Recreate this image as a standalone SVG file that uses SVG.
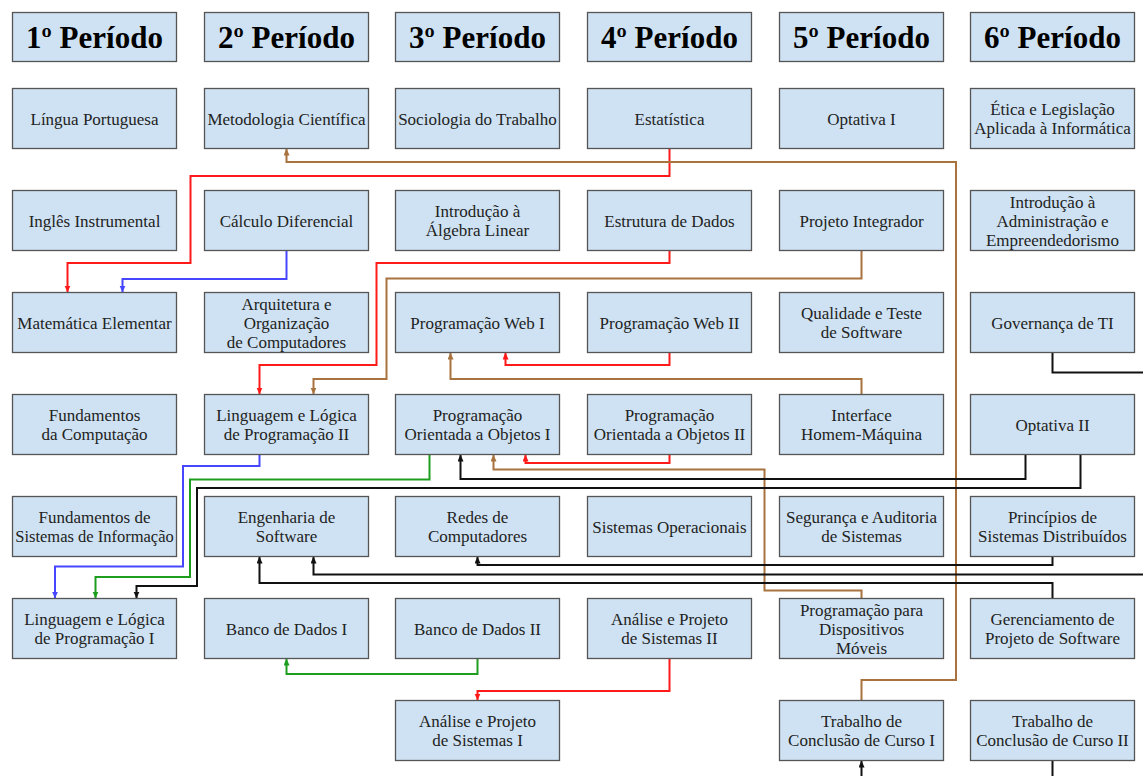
<svg xmlns="http://www.w3.org/2000/svg" width="1143" height="776" viewBox="0 0 1143 776">
<style>
.box{fill:#cfe2f3;stroke:#555;stroke-width:1.3}
.t{font-family:"Liberation Serif","Times New Roman",serif;font-size:17px;fill:#222;text-anchor:middle}
.h{font-family:"Liberation Serif","Times New Roman",serif;font-size:31px;font-weight:bold;fill:#000;text-anchor:middle}
.c{fill:none;stroke-width:2}
.red{stroke:#ff1a1a}.blue{stroke:#4646ff}.green{stroke:#1e9e1e}.brown{stroke:#a8733f}.black{stroke:#111}
</style>
<defs>
<marker id="aR" markerUnits="userSpaceOnUse" markerWidth="8" markerHeight="8" refX="7" refY="3" orient="auto"><path d="M0,0L7,3L0,6z" fill="#ff1a1a"/></marker>
<marker id="aB" markerUnits="userSpaceOnUse" markerWidth="8" markerHeight="8" refX="7" refY="3" orient="auto"><path d="M0,0L7,3L0,6z" fill="#4646ff"/></marker>
<marker id="aG" markerUnits="userSpaceOnUse" markerWidth="8" markerHeight="8" refX="7" refY="3" orient="auto"><path d="M0,0L7,3L0,6z" fill="#1e9e1e"/></marker>
<marker id="aN" markerUnits="userSpaceOnUse" markerWidth="8" markerHeight="8" refX="7" refY="3" orient="auto"><path d="M0,0L7,3L0,6z" fill="#a8733f"/></marker>
<marker id="aK" markerUnits="userSpaceOnUse" markerWidth="8" markerHeight="8" refX="7" refY="3" orient="auto"><path d="M0,0L7,3L0,6z" fill="#111"/></marker>
</defs>
<rect width="1143" height="776" fill="#fff"/>

<g id="connectors">
<path class="c red" d="M669.5,148.5V176H190.5V263H67.5V292.5" marker-end="url(#aR)"/>
<path class="c blue" d="M286.5,250.5V279H122.5V292.5" marker-end="url(#aB)"/>
<path class="c brown" d="M861.5,700.5V680H956V162H286.5V148.5" marker-end="url(#aN)"/>
<path class="c red" d="M669.5,250.5V263H376.5V365H259.5V394.5" marker-end="url(#aR)"/>
<path class="c brown" d="M861.5,250.5V278.5H386.5V379H313.5V394.5" marker-end="url(#aN)"/>
<path class="c red" d="M669.5,352.5V365H505.5V352.5" marker-end="url(#aR)"/>
<path class="c brown" d="M861.5,394.5V379H450.5V352.5" marker-end="url(#aN)"/>
<path class="c red" d="M669.5,454.5V463H525.5V454.5" marker-end="url(#aR)"/>
<path class="c brown" d="M861.5,598.5V590.5H764.5V469.5H493.5V454.5" marker-end="url(#aN)"/>
<path class="c black" d="M1025.5,454.5V479H460.5V454.5" marker-end="url(#aK)"/>
<path class="c black" d="M1080.5,454.5V488H197V586H136.5V598.5" marker-end="url(#aK)"/>
<path class="c green" d="M429.5,454.5V479.5H190V577H95.5V598.5" marker-end="url(#aG)"/>
<path class="c blue" d="M259.5,454.5V466H183V566.5H55V598.5" marker-end="url(#aB)"/>
<path class="c black" d="M1052.5,556.5V565H477.5V556.5" marker-end="url(#aK)"/>
<path class="c black" d="M1143,574.5H313.5V556.5" marker-end="url(#aK)"/>
<path class="c black" d="M1052.5,598.5V583H259.5V556.5" marker-end="url(#aK)"/>
<path class="c black" d="M1052.5,352.5V372.5H1143"/>
<path class="c green" d="M477.5,658.5V674H286.5V658.5" marker-end="url(#aG)"/>
<path class="c red" d="M669.5,658.5V691H477.5V700.5" marker-end="url(#aR)"/>
<path class="c black" d="M861.5,776V760.5" marker-end="url(#aK)"/>
<path class="c black" d="M1052.5,760.5V776"/>
</g>

<!-- Column 1 -->
<g id="h1"><rect class="box" x="12.5" y="12.5" width="164" height="49"/><text class="h" x="94.5" y="47.5">1º Período</text></g>
<g id="c1r1"><rect class="box" x="12.5" y="88.5" width="164" height="60"/><text class="t" x="94.5" y="124.5">Língua Portuguesa</text></g>
<g id="c1r2"><rect class="box" x="12.5" y="190.5" width="164" height="60"/><text class="t" x="94.5" y="226.5">Inglês Instrumental</text></g>
<g id="c1r3"><rect class="box" x="12.5" y="292.5" width="164" height="60"/><text class="t" x="94.5" y="328.5">Matemática Elementar</text></g>
<g id="c1r4"><rect class="box" x="12.5" y="394.5" width="164" height="60"/><text class="t" x="94.5" y="421"><tspan x="94.5">Fundamentos</tspan><tspan x="94.5" dy="19">da Computação</tspan></text></g>
<g id="c1r5"><rect class="box" x="12.5" y="496.5" width="164" height="60"/><text class="t" x="94.5" y="523"><tspan x="94.5">Fundamentos de</tspan><tspan x="94.5" dy="19" style="font-size:16.5px">Sistemas de Informação</tspan></text></g>
<g id="c1r6"><rect class="box" x="12.5" y="598.5" width="164" height="60"/><text class="t" x="94.5" y="625"><tspan x="94.5">Linguagem e Lógica</tspan><tspan x="94.5" dy="19">de Programação I</tspan></text></g>

<!-- Column 2 -->
<g id="h2"><rect class="box" x="204.5" y="12.5" width="164" height="49"/><text class="h" x="286.5" y="47.5">2º Período</text></g>
<g id="c2r1"><rect class="box" x="204.5" y="88.5" width="164" height="60"/><text class="t" x="286.5" y="124.5">Metodologia Científica</text></g>
<g id="c2r2"><rect class="box" x="204.5" y="190.5" width="164" height="60"/><text class="t" x="286.5" y="226.5">Cálculo Diferencial</text></g>
<g id="c2r3"><rect class="box" x="204.5" y="292.5" width="164" height="60"/><text class="t" x="286.5" y="309.5"><tspan x="286.5">Arquitetura e</tspan><tspan x="286.5" dy="19">Organização</tspan><tspan x="286.5" dy="19">de Computadores</tspan></text></g>
<g id="c2r4"><rect class="box" x="204.5" y="394.5" width="164" height="60"/><text class="t" x="286.5" y="421"><tspan x="286.5">Linguagem e Lógica</tspan><tspan x="286.5" dy="19">de Programação II</tspan></text></g>
<g id="c2r5"><rect class="box" x="204.5" y="496.5" width="164" height="60"/><text class="t" x="286.5" y="523"><tspan x="286.5">Engenharia de</tspan><tspan x="286.5" dy="19">Software</tspan></text></g>
<g id="c2r6"><rect class="box" x="204.5" y="598.5" width="164" height="60"/><text class="t" x="286.5" y="634.5">Banco de Dados I</text></g>

<!-- Column 3 -->
<g id="h3"><rect class="box" x="395.5" y="12.5" width="164" height="49"/><text class="h" x="477.5" y="47.5">3º Período</text></g>
<g id="c3r1"><rect class="box" x="395.5" y="88.5" width="164" height="60"/><text class="t" x="477.5" y="124.5">Sociologia do Trabalho</text></g>
<g id="c3r2"><rect class="box" x="395.5" y="190.5" width="164" height="60"/><text class="t" x="477.5" y="217"><tspan x="477.5">Introdução à</tspan><tspan x="477.5" dy="19">Álgebra Linear</tspan></text></g>
<g id="c3r3"><rect class="box" x="395.5" y="292.5" width="164" height="60"/><text class="t" x="477.5" y="328.5">Programação Web I</text></g>
<g id="c3r4"><rect class="box" x="395.5" y="394.5" width="164" height="60"/><text class="t" x="477.5" y="421"><tspan x="477.5">Programação</tspan><tspan x="477.5" dy="19">Orientada a Objetos I</tspan></text></g>
<g id="c3r5"><rect class="box" x="395.5" y="496.5" width="164" height="60"/><text class="t" x="477.5" y="523"><tspan x="477.5">Redes de</tspan><tspan x="477.5" dy="19">Computadores</tspan></text></g>
<g id="c3r6"><rect class="box" x="395.5" y="598.5" width="164" height="60"/><text class="t" x="477.5" y="634.5">Banco de Dados II</text></g>
<g id="c3r7"><rect class="box" x="395.5" y="700.5" width="164" height="60"/><text class="t" x="477.5" y="727"><tspan x="477.5">Análise e Projeto</tspan><tspan x="477.5" dy="19">de Sistemas I</tspan></text></g>

<!-- Column 4 -->
<g id="h4"><rect class="box" x="587.5" y="12.5" width="164" height="49"/><text class="h" x="669.5" y="47.5">4º Período</text></g>
<g id="c4r1"><rect class="box" x="587.5" y="88.5" width="164" height="60"/><text class="t" x="669.5" y="124.5">Estatística</text></g>
<g id="c4r2"><rect class="box" x="587.5" y="190.5" width="164" height="60"/><text class="t" x="669.5" y="226.5">Estrutura de Dados</text></g>
<g id="c4r3"><rect class="box" x="587.5" y="292.5" width="164" height="60"/><text class="t" x="669.5" y="328.5">Programação Web II</text></g>
<g id="c4r4"><rect class="box" x="587.5" y="394.5" width="164" height="60"/><text class="t" x="669.5" y="421"><tspan x="669.5">Programação</tspan><tspan x="669.5" dy="19">Orientada a Objetos II</tspan></text></g>
<g id="c4r5"><rect class="box" x="587.5" y="496.5" width="164" height="60"/><text class="t" x="669.5" y="532.5">Sistemas Operacionais</text></g>
<g id="c4r6"><rect class="box" x="587.5" y="598.5" width="164" height="60"/><text class="t" x="669.5" y="625"><tspan x="669.5">Análise e Projeto</tspan><tspan x="669.5" dy="19">de Sistemas II</tspan></text></g>

<!-- Column 5 -->
<g id="h5"><rect class="box" x="779.5" y="12.5" width="164" height="49"/><text class="h" x="861.5" y="47.5">5º Período</text></g>
<g id="c5r1"><rect class="box" x="779.5" y="88.5" width="164" height="60"/><text class="t" x="861.5" y="124.5">Optativa I</text></g>
<g id="c5r2"><rect class="box" x="779.5" y="190.5" width="164" height="60"/><text class="t" x="861.5" y="226.5">Projeto Integrador</text></g>
<g id="c5r3"><rect class="box" x="779.5" y="292.5" width="164" height="60"/><text class="t" x="861.5" y="319"><tspan x="861.5">Qualidade e Teste</tspan><tspan x="861.5" dy="19">de Software</tspan></text></g>
<g id="c5r4"><rect class="box" x="779.5" y="394.5" width="164" height="60"/><text class="t" x="861.5" y="421"><tspan x="861.5">Interface</tspan><tspan x="861.5" dy="19">Homem-Máquina</tspan></text></g>
<g id="c5r5"><rect class="box" x="779.5" y="496.5" width="164" height="60"/><text class="t" x="861.5" y="523"><tspan x="861.5">Segurança e Auditoria</tspan><tspan x="861.5" dy="19">de Sistemas</tspan></text></g>
<g id="c5r6"><rect class="box" x="779.5" y="598.5" width="164" height="60"/><text class="t" x="861.5" y="615.5"><tspan x="861.5">Programação para</tspan><tspan x="861.5" dy="19">Dispositivos</tspan><tspan x="861.5" dy="19">Móveis</tspan></text></g>
<g id="c5r7"><rect class="box" x="779.5" y="700.5" width="164" height="60"/><text class="t" x="861.5" y="727"><tspan x="861.5">Trabalho de</tspan><tspan x="861.5" dy="19">Conclusão de Curso I</tspan></text></g>

<!-- Column 6 -->
<g id="h6"><rect class="box" x="970.5" y="12.5" width="164" height="49"/><text class="h" x="1052.5" y="47.5">6º Período</text></g>
<g id="c6r1"><rect class="box" x="970.5" y="88.5" width="164" height="60"/><text class="t" x="1052.5" y="115"><tspan x="1052.5">Ética e Legislação</tspan><tspan x="1052.5" dy="19">Aplicada à Informática</tspan></text></g>
<g id="c6r2"><rect class="box" x="970.5" y="190.5" width="164" height="60"/><text class="t" x="1052.5" y="207.5"><tspan x="1052.5">Introdução à</tspan><tspan x="1052.5" dy="19">Administração e</tspan><tspan x="1052.5" dy="19">Empreendedorismo</tspan></text></g>
<g id="c6r3"><rect class="box" x="970.5" y="292.5" width="164" height="60"/><text class="t" x="1052.5" y="328.5">Governança de TI</text></g>
<g id="c6r4"><rect class="box" x="970.5" y="394.5" width="164" height="60"/><text class="t" x="1052.5" y="430.5">Optativa II</text></g>
<g id="c6r5"><rect class="box" x="970.5" y="496.5" width="164" height="60"/><text class="t" x="1052.5" y="523"><tspan x="1052.5">Princípios de</tspan><tspan x="1052.5" dy="19">Sistemas Distribuídos</tspan></text></g>
<g id="c6r6"><rect class="box" x="970.5" y="598.5" width="164" height="60"/><text class="t" x="1052.5" y="625"><tspan x="1052.5">Gerenciamento de</tspan><tspan x="1052.5" dy="19">Projeto de Software</tspan></text></g>
<g id="c6r7"><rect class="box" x="970.5" y="700.5" width="164" height="60"/><text class="t" x="1052.5" y="727"><tspan x="1052.5">Trabalho de</tspan><tspan x="1052.5" dy="19">Conclusão de Curso II</tspan></text></g>
</svg>
